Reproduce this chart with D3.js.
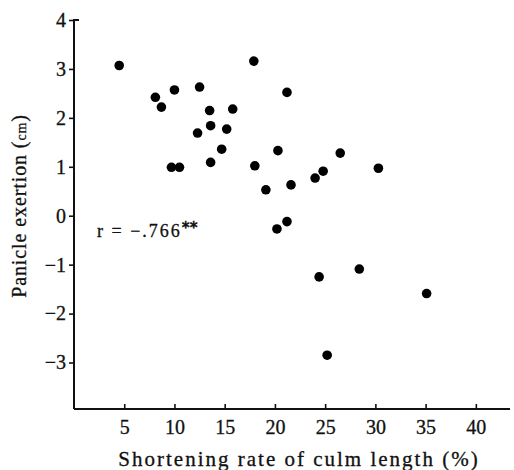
<!DOCTYPE html>
<html>
<head>
<meta charset="utf-8">
<title>Panicle exertion vs shortening rate</title>
<script src="https://d3js.org/d3.v7.min.js"></script>
<style>
  body { margin: 0; background: #fff; }
  text { font-family: "Liberation Serif", "DejaVu Serif", serif; fill: #111; stroke: #111; stroke-width: 0.3px; }
</style>
</head>
<body>
<svg id="chart" width="514" height="470"></svg>
<script>
// values: shortening rate (%) and panicle exertion (cm)
var shortening = [4.5, 8.1, 8.7, 10.0, 12.5, 13.5, 15.8, 12.3, 13.6, 15.2, 14.7, 9.7, 10.5, 13.6,
                  17.9, 18.0, 21.2, 20.3, 19.1, 21.6, 24.0, 24.8, 26.5, 30.3, 21.2, 20.2,
                  24.4, 28.4, 35.1, 25.2];
var exertion   = [3.07, 2.42, 2.22, 2.57, 2.63, 2.15, 2.18, 1.69, 1.84, 1.77, 1.36, 0.99, 0.99, 1.09,
                  3.16, 1.02, 2.52, 1.33, 0.53, 0.63, 0.77, 0.91, 1.28, 0.97, -0.12, -0.27,
                  -1.25, -1.09, -1.59, -2.85];
var xTicks = [5, 10, 15, 20, 25, 30, 35, 40];
var yTicks = [4, 3, 2, 1, 0, -1, -2, -3];

var svg = d3.select("#chart");
var mLeft = 74, mTop = 20, mBottom = 409, mRight = 510;

var x = d3.scaleLinear().domain([0, 43.4]).range([mLeft, mRight]);
var y = d3.scaleLinear().domain([-3.95, 4]).range([mBottom, mTop]);

// axes
var xAxis = svg.append("g").attr("transform", "translate(0," + mBottom + ")")
  .call(d3.axisBottom(x).tickValues(xTicks).tickSize(-5).tickPadding(11).tickFormat(d3.format("d")));
var yAxis = svg.append("g").attr("transform", "translate(" + mLeft + ",0)")
  .call(d3.axisLeft(y).tickValues(yTicks).tickSize(5).tickPadding(3)
        .tickFormat(function(d) { return d < 0 ? "\u2212" + (-d) : d; }));

[xAxis, yAxis].forEach(function(a) {
  a.select(".domain").attr("stroke", "#111").attr("stroke-width", 2);
  a.selectAll(".tick line").attr("stroke", "#111").attr("stroke-width", 1.6);
  a.selectAll(".tick text").style("font-size", "20px").attr("fill", "#111")
    .style("font-family", "'Liberation Serif', serif");
});
xAxis.select(".domain").attr("d", "M" + mLeft + ",0H" + mRight);
yAxis.select(".domain").attr("d", "M0," + mBottom + "V" + mTop + "H5");

// points
svg.append("g").selectAll("circle").data(shortening).enter().append("circle")
  .attr("cx", function(d) { return x(d); })
  .attr("cy", function(d, i) { return y(exertion[i]); })
  .attr("r", 4.8)
  .attr("fill", "#000");

// correlation label
var r = svg.append("text").attr("x", 97).attr("y", 237).style("font-size", "18px");
r.append("tspan").style("letter-spacing", "2px").text("r = \u2212.766");
r.append("tspan").attr("dy", -4).style("font-size", "15px").style("font-family", "'DejaVu Sans', sans-serif")
  .style("font-weight", "bold").text("**");

// axis titles
svg.append("text").attr("x", 299).attr("y", 466).attr("text-anchor", "middle").style("font-size", "21px")
  .style("letter-spacing", "2px")
  .text("Shortening rate of culm length (%)");

var yl = svg.append("text").attr("transform", "translate(26,206) rotate(-90)")
  .attr("text-anchor", "middle").style("font-size", "20px").style("letter-spacing", "0.9px");
yl.append("tspan").text("Panicle exertion (");
yl.append("tspan").style("font-size", "14px").text("cm");
yl.append("tspan").text(")");
</script>
</body>
</html>
